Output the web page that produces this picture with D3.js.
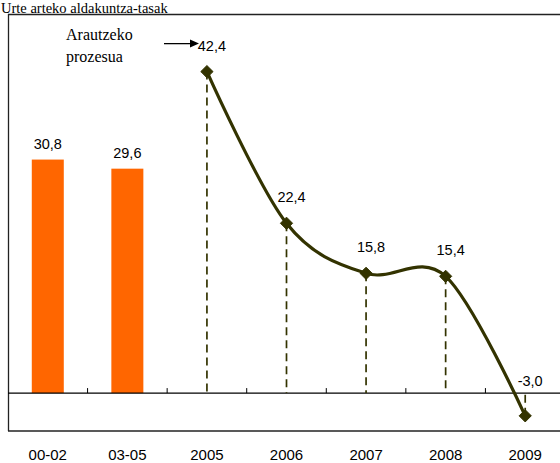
<!DOCTYPE html>
<html><head><meta charset="utf-8">
<script src="https://cdn.jsdelivr.net/npm/d3@7"></script>
<style>body{margin:0;background:#fff}svg{display:block}
.serif{font-family:"Liberation Serif","DejaVu Serif",serif}
.sans{font-family:"Liberation Sans",Arial,sans-serif}</style>
</head><body><div id="chart"></div>
<script>
const title = "Urte arteko aldakuntza-tasak";
const categories = ["00-02","03-05","2005","2006","2007","2008","2009"];
const barCategories = ["00-02","03-05"];
const barValues = [30.8, 29.6];
const lineCategories = ["2005","2006","2007","2008","2009"];
const lineValues = [42.4, 22.4, 15.8, 15.4, -3.0];
const annotationLines = ["Arautzeko","prozesua"];
const yDomain = [-5, 50];

const W = 560, H = 463;
const svg = d3.select("#chart").append("svg").attr("width", W).attr("height", H);

const x = d3.scaleBand().domain(categories).range([8, 565]).paddingInner(0).paddingOuter(0);
const y = d3.scaleLinear().domain(yDomain).range([431, 14]);
const fmt = v => d3.format(".1f")(v).replace(".", ",").replace("\u2212", "-");

// title
svg.append("text").attr("class", "serif").attr("x", 1).attr("y", 12.5)
  .attr("font-size", 14.5)
  .attr("fill", "#000").text(title);

// plot box
const box = svg.append("g");
box.append("line").attr("x1", 8.5).attr("x2", 8.5).attr("y1", y(yDomain[1])).attr("y2", y(yDomain[0])).attr("stroke", "#222").attr("stroke-width", 1.3);
box.append("line").attr("x1", 8).attr("x2", W).attr("y1", y(yDomain[1])+0.5).attr("y2", y(yDomain[1])+0.5).attr("stroke", "#222").attr("stroke-width", 1.3);
box.append("line").attr("x1", 8).attr("x2", W).attr("y1", y(yDomain[0])).attr("y2", y(yDomain[0])).attr("stroke", "#222").attr("stroke-width", 1.3);

// bars
const barW = 32;
svg.selectAll("rect.bar").data(barCategories).join("rect")
  .attr("class", "bar")
  .attr("x", d => x(d) + x.bandwidth()/2 - barW/2)
  .attr("width", barW)
  .attr("y", (d,i) => y(barValues[i]))
  .attr("height", (d,i) => y(0) - y(barValues[i]))
  .attr("fill", "#FF6600");

svg.selectAll("text.blab").data(barCategories).join("text")
  .attr("class", "blab sans")
  .attr("x", d => x(d) + x.bandwidth()/2)
  .attr("y", (d,i) => y(barValues[i]) - 11)
  .attr("text-anchor", "middle")
  .attr("font-size", 14.5)
  .text((d,i) => fmt(barValues[i]));

// zero axis line with ticks
svg.append("line").attr("x1", 8).attr("x2", W).attr("y1", y(0)).attr("y2", y(0)).attr("stroke", "#000").attr("stroke-width", 1.2);
svg.selectAll("line.tk").data(categories.slice(1)).join("line")
  .attr("class", "tk")
  .attr("x1", d => x(d)).attr("x2", d => x(d))
  .attr("y1", y(0)).attr("y2", y(0) - 5)
  .attr("stroke", "#000").attr("stroke-width", 1);

// category labels
svg.selectAll("text.cat").data(categories).join("text")
  .attr("class", "cat sans")
  .attr("x", d => x(d) + x.bandwidth()/2)
  .attr("y", 460)
  .attr("text-anchor", "middle")
  .attr("font-size", 15)
  .text(d => d);

// drop lines
const lineColor = "#333300";
const cx = d => x(d) + x.bandwidth()/2;
svg.selectAll("line.drop").data(lineCategories).join("line")
  .attr("class", "drop")
  .attr("x1", d => cx(d)).attr("x2", d => cx(d))
  .attr("y1", (d,i) => y(lineValues[i])).attr("y2", y(0))
  .attr("stroke", lineColor).attr("stroke-width", 1.7)
  .attr("stroke-dasharray", "8,5");

// smooth line
const pts = lineCategories.map((c,i) => [cx(c), y(lineValues[i])]);
svg.append("path").attr("d", d3.line().curve(d3.curveCardinal.tension(0))(pts))
  .attr("fill", "none").attr("stroke", lineColor).attr("stroke-width", 3.2);

// markers
svg.selectAll("path.mk").data(pts).join("path")
  .attr("class", "mk")
  .attr("transform", d => `translate(${d[0]},${d[1]})`)
  .attr("d", d3.symbol().type(d3.symbolDiamond2).size(95))
  .attr("fill", lineColor).attr("stroke", lineColor).attr("stroke-width", 1);

// line labels
svg.selectAll("text.llab").data(lineCategories).join("text")
  .attr("class", "llab sans")
  .attr("x", (d,i) => cx(d) + 5)
  .attr("y", (d,i) => lineValues[i] < 0 ? y(0) - 7 : y(lineValues[i]) - 21)
  .attr("text-anchor", "middle")
  .attr("font-size", 14.5)
  .text((d,i) => fmt(lineValues[i]));

// annotation
const ann = svg.append("g");
ann.selectAll("text").data(annotationLines).join("text")
  .attr("class", "serif")
  .attr("x", 66).attr("y", (d,i) => 40 + i*22)
  .attr("font-size", 16)
  .attr("fill", "#000").text(d => d);
const ay = y(lineValues[0]) - 28;
ann.append("line").attr("x1", 164).attr("x2", 192).attr("y1", ay).attr("y2", ay).attr("stroke", "#000").attr("stroke-width", 1.3);
ann.append("path").attr("d", `M199,${ay} L190,${ay-4} L190,${ay+4} Z`).attr("fill", "#000");
</script></body></html>
